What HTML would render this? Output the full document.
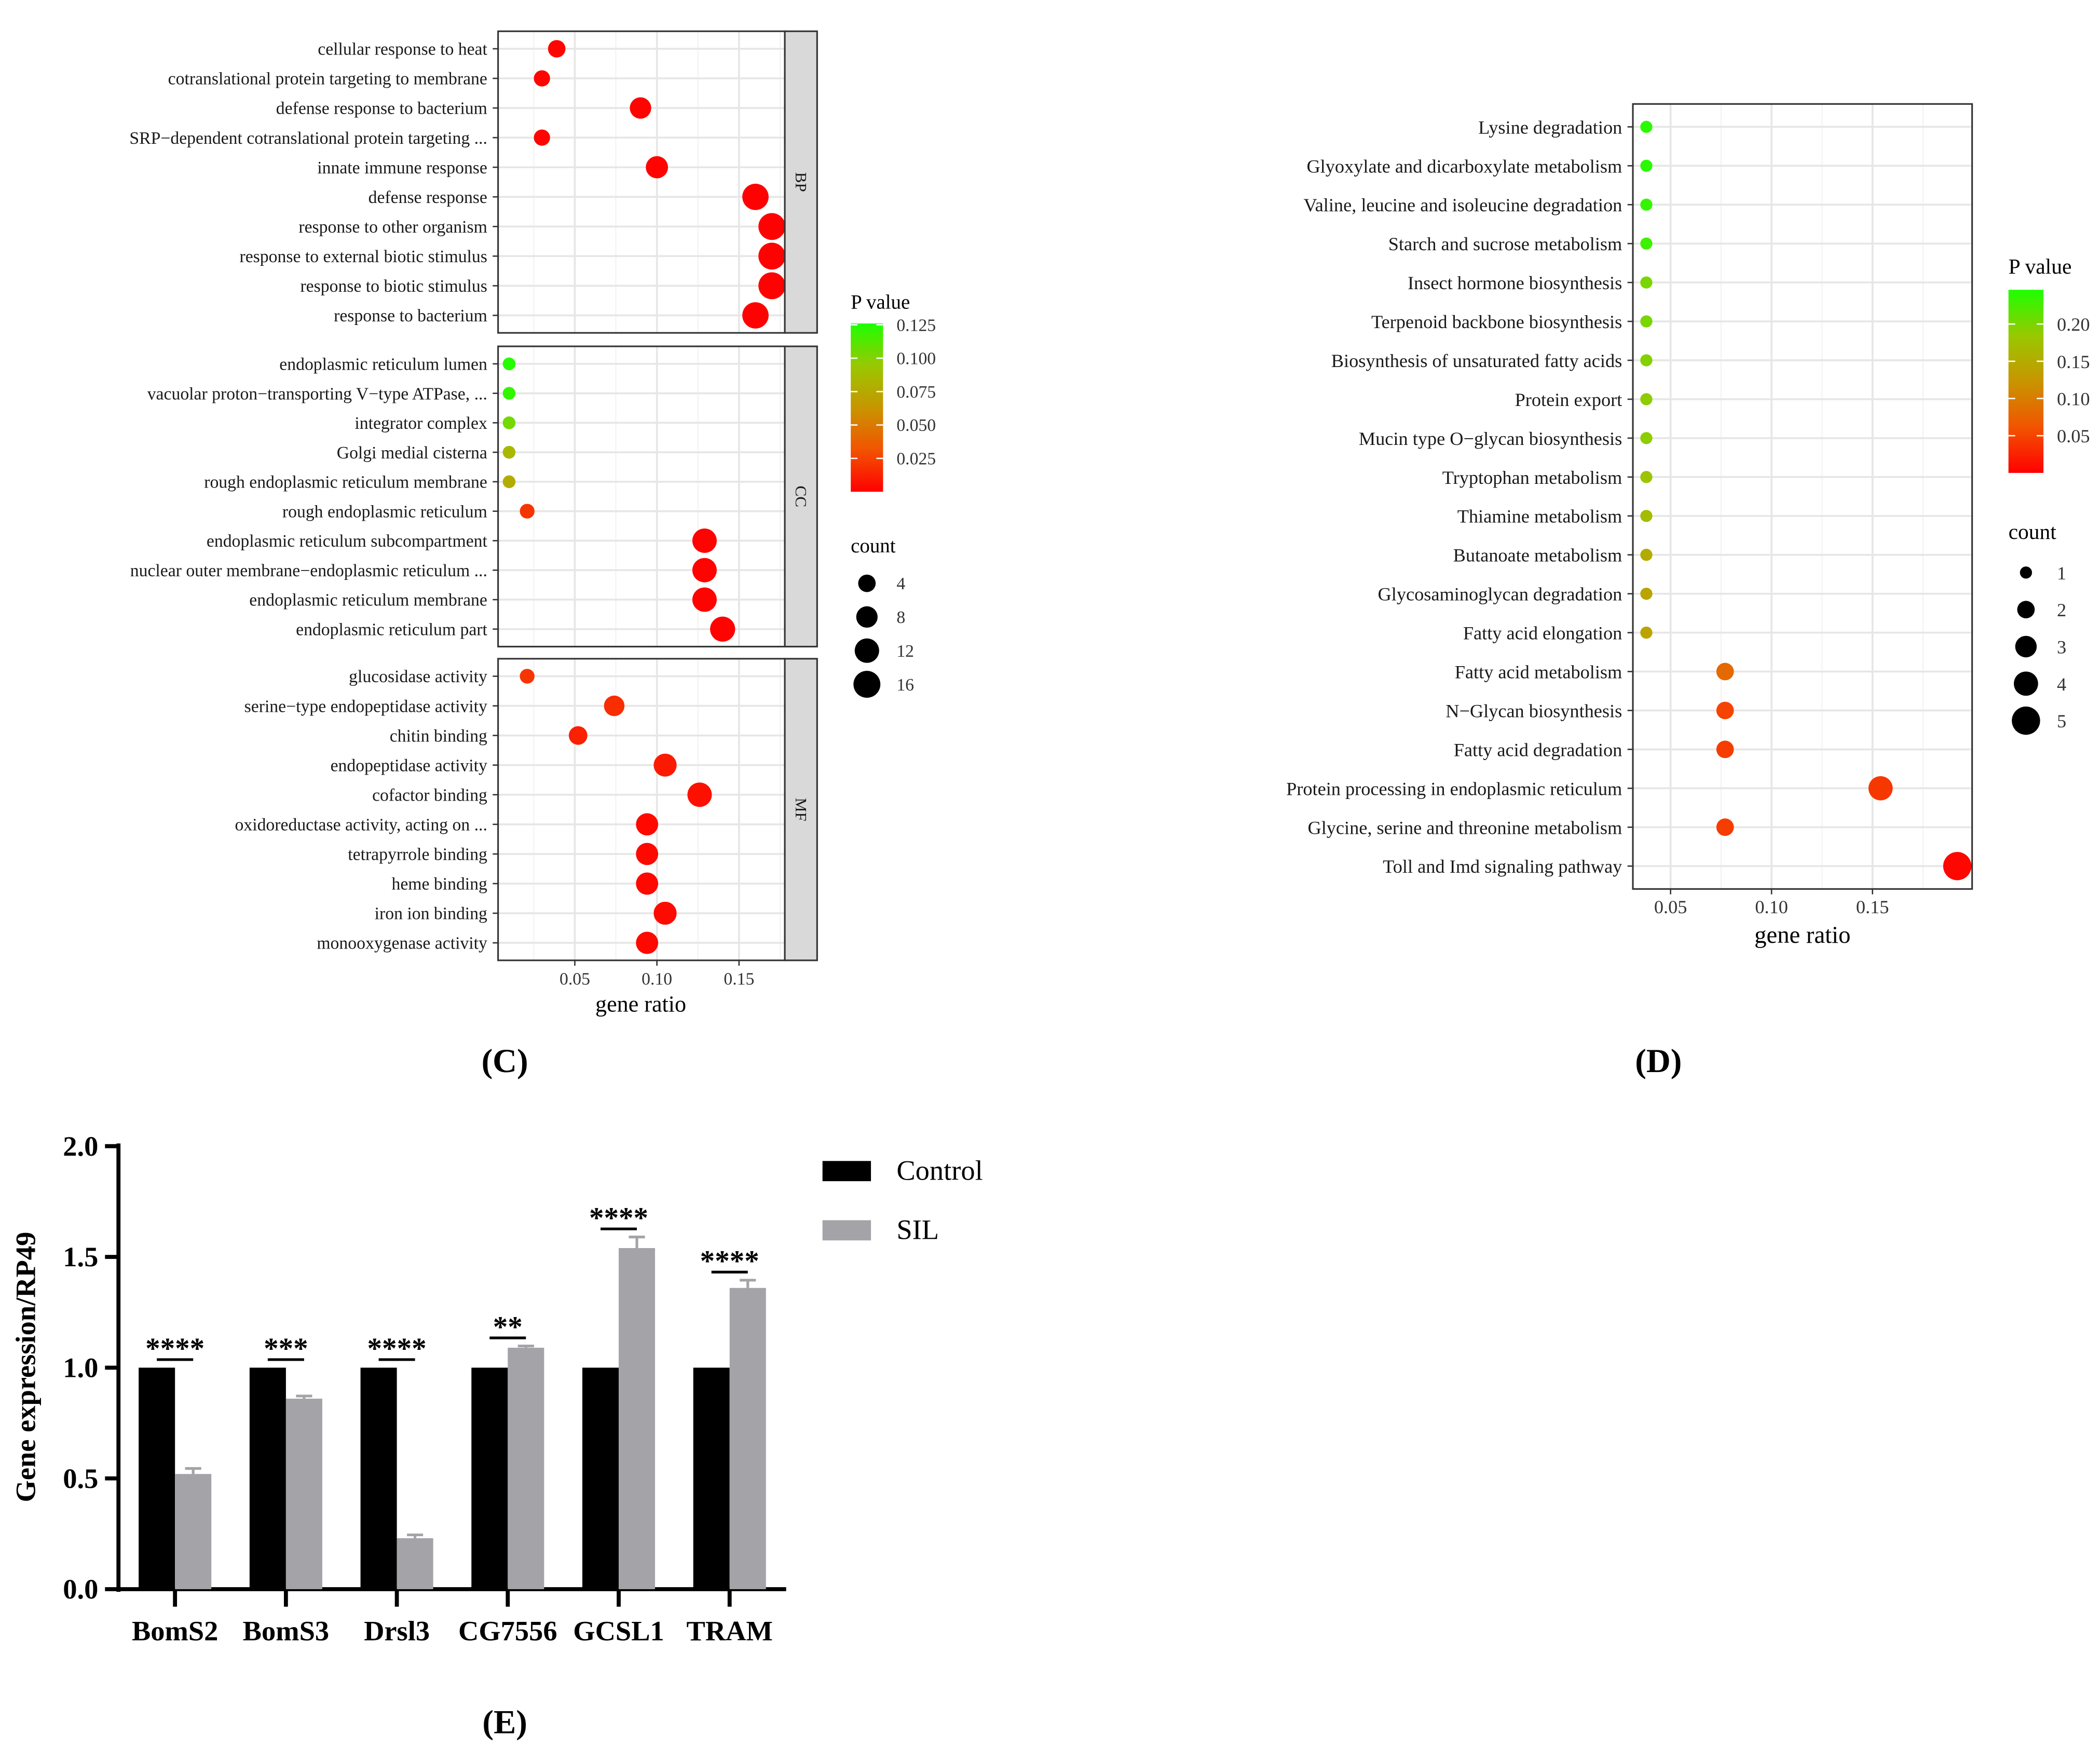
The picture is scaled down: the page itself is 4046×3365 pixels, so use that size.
<!DOCTYPE html>
<html><head><meta charset="utf-8">
<style>
html,body{margin:0;padding:0;background:#fff;}
svg{display:block;}
text{font-family:"Liberation Serif",serif;}
</style></head>
<body>
<svg id="fig" width="4046" height="3365" viewBox="0 0 1560 1297" xmlns="http://www.w3.org/2000/svg">
<g id="pc"></g>
<g id="pd"></g>
<g id="pe"></g>
<defs>
<linearGradient id="gradC" x1="0" y1="1" x2="0" y2="0">
<stop offset="0" stop-color="#FF0000"/><stop offset="0.25" stop-color="#F25400"/><stop offset="0.5" stop-color="#C89500"/><stop offset="0.75" stop-color="#99C800"/><stop offset="1" stop-color="#1EFF00"/>
</linearGradient>
</defs>
<text x="375" y="796" font-size="25" font-weight="bold" text-anchor="middle">(C)</text>
<text x="1232" y="796" font-size="25" font-weight="bold" text-anchor="middle">(D)</text>
<text x="375" y="1287" font-size="25" font-weight="bold" text-anchor="middle">(E)</text>
</svg>
<script>
// ---------- Panel C data ----------
const bpTerms = ["cellular response to heat","cotranslational protein targeting to membrane","defense response to bacterium","SRP\u2212dependent cotranslational protein targeting ...","innate immune response","defense response","response to other organism","response to external biotic stimulus","response to biotic stimulus","response to bacterium"];
const bpRatio = [0.039,0.030,0.090,0.030,0.100,0.160,0.170,0.170,0.170,0.160];
const bpCount = [4,3,8,3,9,15,16,16,16,15];
const bpP = [0.002,0.002,0.001,0.002,0.001,0.0005,0.0005,0.0005,0.0005,0.0005];
const ccTerms = ["endoplasmic reticulum lumen","vacuolar proton\u2212transporting V\u2212type ATPase, ...","integrator complex","Golgi medial cisterna","rough endoplasmic reticulum membrane","rough endoplasmic reticulum","endoplasmic reticulum subcompartment","nuclear outer membrane\u2212endoplasmic reticulum ...","endoplasmic reticulum membrane","endoplasmic reticulum part"];
const ccRatio = [0.010,0.010,0.010,0.010,0.010,0.021,0.129,0.129,0.129,0.140];
const ccCount = [1,1,1,1,1,2,12,12,12,13];
const ccP = [0.125,0.122,0.105,0.085,0.078,0.02,0.001,0.001,0.001,0.001];
const mfTerms = ["glucosidase activity","serine\u2212type endopeptidase activity","chitin binding","endopeptidase activity","cofactor binding","oxidoreductase activity, acting on ...","tetrapyrrole binding","heme binding","iron ion binding","monooxygenase activity"];
const mfRatio = [0.021,0.074,0.052,0.105,0.126,0.094,0.094,0.094,0.105,0.094];
const mfCount = [2,7,5,10,12,9,9,9,10,9];
const mfP = [0.02,0.017,0.012,0.01,0.006,0.003,0.003,0.003,0.004,0.003];
const cTicks = [0.05,0.10,0.15];
const cTickLabels = ["0.05","0.10","0.15"];
const cLegendP = [0.125,0.100,0.075,0.050,0.025];
const cLegendCount = [4,8,12,16];

// ---------- Panel D data ----------
const dTerms = ["Lysine degradation","Glyoxylate and dicarboxylate metabolism","Valine, leucine and isoleucine degradation","Starch and sucrose metabolism","Insect hormone biosynthesis","Terpenoid backbone biosynthesis","Biosynthesis of unsaturated fatty acids","Protein export","Mucin type O\u2212glycan biosynthesis","Tryptophan metabolism","Thiamine metabolism","Butanoate metabolism","Glycosaminoglycan degradation","Fatty acid elongation","Fatty acid metabolism","N\u2212Glycan biosynthesis","Fatty acid degradation","Protein processing in endoplasmic reticulum","Glycine, serine and threonine metabolism","Toll and Imd signaling pathway"];
const dRatio = [0.038,0.038,0.038,0.038,0.038,0.038,0.038,0.038,0.038,0.038,0.038,0.038,0.038,0.038,0.077,0.077,0.077,0.154,0.077,0.192];
const dCount = [1,1,1,1,1,1,1,1,1,1,1,1,1,1,2,2,2,4,2,5];
const dP = [0.24,0.24,0.235,0.23,0.2,0.2,0.195,0.19,0.19,0.18,0.17,0.15,0.14,0.14,0.08,0.05,0.045,0.04,0.045,0.005];
const dTicks = [0.05,0.10,0.15];
const dTickLabels = ["0.05","0.10","0.15"];
const dLegendP = [0.20,0.15,0.10,0.05];
const dLegendCount = [1,2,3,4,5];

// ---------- Panel E data ----------
const eGenes = ["BomS2","BomS3","Drsl3","CG7556","GCSL1","TRAM"];
const eControl = [1,1,1,1,1,1];
const eSIL = [0.52,0.86,0.23,1.09,1.54,1.36];
const eErr = [0.025,0.012,0.015,0.008,0.05,0.035];
const eStars = ["****","***","****","**","****","****"];
const eTicks = [0,0.5,1.0,1.5,2.0];
const eTickLabels = ["0.0","0.5","1.0","1.5","2.0"];

const NS="http://www.w3.org/2000/svg";
function mk(parent,tag,attrs,txt){const e=document.createElementNS(NS,tag);for(const k in attrs)e.setAttribute(k,attrs[k]);if(txt!==undefined)e.textContent=txt;parent.appendChild(e);return e;}
function hex(c){return [parseInt(c.slice(1,3),16),parseInt(c.slice(3,5),16),parseInt(c.slice(5,7),16)];}
const stops=[[0,"#FF0000"],[0.25,"#F25400"],[0.5,"#C89500"],[0.75,"#99C800"],[1,"#1EFF00"]];
function colorAt(t){t=Math.max(0,Math.min(1,t));for(let i=0;i<stops.length-1;i++){const [a,ca]=stops[i],[b,cb]=stops[i+1];if(t<=b){const f=(t-a)/(b-a),A=hex(ca),B=hex(cb);return "rgb("+A.map((v,j)=>Math.round(v+(B[j]-v)*f)).join(",")+")";}}return stops[4][1];}

// ===== Panel C =====
(function(){
const g=document.getElementById('pc');
const px0=370,px1=583,sx0=583,sx1=607;
const xs=v=>366+v*1220;
const cr=c=>3+1.75*Math.sqrt(c);
const pcol=p=>colorAt(p/0.127);
const facets=[["BP",bpTerms,bpRatio,bpCount,bpP,23,247],["CC",ccTerms,ccRatio,ccCount,ccP,257,480],["MF",mfTerms,mfRatio,mfCount,mfP,489,713]];
facets.forEach(([name,terms,ratio,count,p,y0,y1])=>{
  const fg=mk(g,'g',{});
  
  
  mk(fg,'rect',{x:px0,y:y0,width:px1-px0,height:y1-y0,fill:'#fff'});
  const ys=i=>y0+13+i*(y1-y0-26)/(terms.length-1);
  [0.025,0.075,0.125,0.175].forEach(v=>mk(fg,'line',{x1:xs(v),x2:xs(v),y1:y0,y2:y1,stroke:'#F2F2F2','stroke-width':0.8}));
  cTicks.forEach(v=>mk(fg,'line',{x1:xs(v),x2:xs(v),y1:y0,y2:y1,stroke:'#E6E6E6','stroke-width':1.4}));
  terms.forEach((t,i)=>{
    mk(fg,'line',{x1:px0,x2:px1,y1:ys(i),y2:ys(i),stroke:'#E6E6E6','stroke-width':1.4});
    const lab=mk(fg,'text',{x:362,y:ys(i)+4.5,'font-size':13,'text-anchor':'end',fill:'#1a1a1a'},t);
    
    
    mk(fg,'line',{x1:366,x2:370,y1:ys(i),y2:ys(i),stroke:'#333','stroke-width':1});
  });
  terms.forEach((t,i)=>{
    const c=mk(fg,'circle',{cx:xs(ratio[i]),cy:ys(i),r:cr(count[i]),fill:pcol(p[i])});
    
    
  });
  mk(fg,'rect',{x:px0,y:y0,width:px1-px0,height:y1-y0,fill:'none',stroke:'#333','stroke-width':1.2});
  const st=mk(fg,'rect',{x:sx0,y:y0,width:sx1-sx0,height:y1-y0,fill:'#D9D9D9',stroke:'#333','stroke-width':1.2});
  
  
  const cy=(y0+y1)/2;
  mk(fg,'text',{x:595,y:cy,'font-size':12,'text-anchor':'middle',transform:`rotate(90 595 ${cy})`,dy:4,fill:'#1a1a1a'},name);
});
cTicks.forEach((v,i)=>{
  mk(g,'line',{x1:xs(v),x2:xs(v),y1:713,y2:717,stroke:'#333'});
  const t=mk(g,'text',{x:xs(v),y:731,'font-size':13,'text-anchor':'middle',fill:'#333'},cTickLabels[i]);
  
  
});
const xt=mk(g,'text',{x:476,y:751,'font-size':17,'text-anchor':'middle'},'gene ratio');


const lt=mk(g,'text',{x:632,y:229,'font-size':15},'P value');


const bar=mk(g,'rect',{x:632,y:240,width:24,height:125,fill:'url(#gradC)'});


const ly=v=>365-v/0.125*124;
cLegendP.forEach(v=>{
  mk(g,'line',{x1:632,x2:637,y1:ly(v),y2:ly(v),stroke:'#fff'});
  mk(g,'line',{x1:651,x2:656,y1:ly(v),y2:ly(v),stroke:'#fff'});
  mk(g,'text',{x:666,y:ly(v)+4.5,'font-size':13,fill:'#333'},v.toFixed(3));
});
const ct=mk(g,'text',{x:632,y:410,'font-size':15},'count');


cLegendCount.forEach((c,i)=>{
  const y=433+i*25;
  const d=mk(g,'circle',{cx:644,cy:y,r:cr(c)});
  
  
  mk(g,'text',{x:666,y:y+4.5,'font-size':13,fill:'#333'},String(c));
});
})();

// ===== Panel D =====
(function(){
const g=document.getElementById('pd');
const x0=1213,x1=1465,y0=77,y1=660;
const xs=v=>1166+v*1500;
const ys=i=>94+i*(643-94)/(dTerms.length-1);
const rr=[0,4.5,6.5,8,9,10.5];
const pcol=p=>colorAt(p/0.246);
mk(g,'rect',{x:x0,y:y0,width:x1-x0,height:y1-y0,fill:'#fff'});
[0.075,0.125,0.175].forEach(v=>mk(g,'line',{x1:xs(v),x2:xs(v),y1:y0,y2:y1,stroke:'#F2F2F2','stroke-width':0.8}));
dTicks.forEach(v=>mk(g,'line',{x1:xs(v),x2:xs(v),y1:y0,y2:y1,stroke:'#E6E6E6','stroke-width':1.4}));
dTerms.forEach((t,i)=>{
  mk(g,'line',{x1:x0,x2:x1,y1:ys(i),y2:ys(i),stroke:'#E6E6E6','stroke-width':1.4});
  mk(g,'line',{x1:1209,x2:1213,y1:ys(i),y2:ys(i),stroke:'#333'});
  const l=mk(g,'text',{x:1205,y:ys(i)+5,'font-size':14,'text-anchor':'end',fill:'#1a1a1a'},t);
  
  
});
dTerms.forEach((t,i)=>{
  const c=mk(g,'circle',{cx:xs(dRatio[i]),cy:ys(i),r:rr[dCount[i]],fill:pcol(dP[i])});
  
  
});
mk(g,'rect',{x:x0,y:y0,width:x1-x0,height:y1-y0,fill:'none',stroke:'#333','stroke-width':1.2});
dTicks.forEach((v,i)=>{
  mk(g,'line',{x1:xs(v),x2:xs(v),y1:y1,y2:y1+4,stroke:'#333'});
  const t=mk(g,'text',{x:xs(v),y:678,'font-size':14,'text-anchor':'middle',fill:'#333'},dTickLabels[i]);
  
  
});
const xt=mk(g,'text',{x:1339,y:700,'font-size':18,'text-anchor':'middle'},'gene ratio');


const lt=mk(g,'text',{x:1492,y:203,'font-size':16},'P value');


const bar=mk(g,'rect',{x:1492,y:215,width:26,height:136,fill:'url(#gradC)'});


const ly=v=>351-v/0.246*136;
dLegendP.forEach(v=>{
  mk(g,'line',{x1:1492,x2:1497,y1:ly(v),y2:ly(v),stroke:'#fff'});
  mk(g,'line',{x1:1513,x2:1518,y1:ly(v),y2:ly(v),stroke:'#fff'});
  mk(g,'text',{x:1528,y:ly(v)+5,'font-size':14,fill:'#333'},v.toFixed(2));
});
const ct=mk(g,'text',{x:1492,y:400,'font-size':16},'count');


dLegendCount.forEach((c,i)=>{
  const y=425+i*27.5;
  const d=mk(g,'circle',{cx:1505,cy:y,r:rr[c]});
  
  
  mk(g,'text',{x:1528,y:y+5,'font-size':14,fill:'#333'},String(c));
});
})();

// ===== Panel E =====
(function(){
const g=document.getElementById('pe');
const ys=v=>1180-v*164.5;
const gc=i=>130+i*82.4;
const bw=27;
mk(g,'line',{x1:88,x2:88,y1:849,y2:1182,stroke:'#000','stroke-width':3});
mk(g,'line',{x1:86.5,x2:584,y1:1180,y2:1180,stroke:'#000','stroke-width':3});
eTicks.forEach((v,i)=>{
  mk(g,'line',{x1:78,x2:88,y1:ys(v),y2:ys(v),stroke:'#000','stroke-width':3});
  const t=mk(g,'text',{x:73,y:ys(v)+7,'font-size':21,'font-weight':'bold','text-anchor':'end'},eTickLabels[i]);
  
  
});
const yt=mk(g,'text',{x:26,y:1015,'font-size':21,'font-weight':'bold','text-anchor':'middle',transform:'rotate(-90 26 1015)'},'Gene expression/RP49');


eGenes.forEach((name,i)=>{
  const c=gc(i);
  const b1=mk(g,'rect',{x:c-bw,y:ys(eControl[i]),width:bw,height:ys(0)-ys(eControl[i]),fill:'#000'});
  
  
  const b2=mk(g,'rect',{x:c,y:ys(eSIL[i]),width:bw,height:ys(0)-ys(eSIL[i]),fill:'#A3A3A8'});
  
  
  const top=ys(eSIL[i]+eErr[i]);
  mk(g,'line',{x1:c+bw/2,x2:c+bw/2,y1:top,y2:ys(eSIL[i]),stroke:'#A3A3A8','stroke-width':2});
  mk(g,'line',{x1:c+bw/2-6,x2:c+bw/2+6,y1:top,y2:top,stroke:'#A3A3A8','stroke-width':2});
  mk(g,'line',{x1:c,x2:c,y1:1180,y2:1193,stroke:'#000','stroke-width':3});
  const l=mk(g,'text',{x:c,y:1218,'font-size':21,'font-weight':'bold','text-anchor':'middle'},name);
  
  
  const sy=ys(Math.max(eControl[i],eSIL[i]+eErr[i]))-6;
  mk(g,'line',{x1:c-bw/2,x2:c+bw/2,y1:sy,y2:sy,stroke:'#000','stroke-width':2});
  const s=mk(g,'text',{x:c,y:sy-1,'font-size':22,'font-weight':'bold','text-anchor':'middle'},eStars[i]);
  
  
});
const le1=mk(g,'rect',{x:611,y:862,width:36,height:15,fill:'#000'});


mk(g,'text',{x:666,y:876,'font-size':21},'Control');
const le2=mk(g,'rect',{x:611,y:906,width:36,height:15,fill:'#A3A3A8'});


mk(g,'text',{x:666,y:920,'font-size':21},'SIL');
})();
</script>
</body></html>
